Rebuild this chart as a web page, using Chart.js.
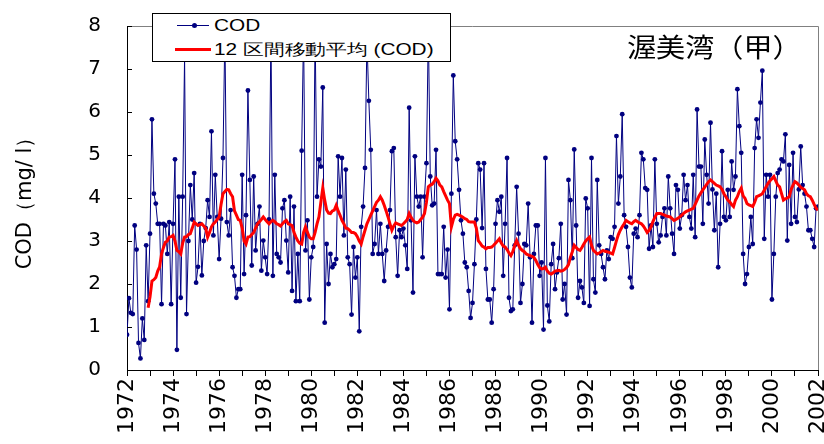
<!DOCTYPE html>
<html>
<head>
<meta charset="utf-8">
<script src="https://cdn.jsdelivr.net/npm/chart.js@4.4.1/dist/chart.umd.min.js"></script>
<style>
  body { margin: 0; background: #fff; }
  #wrap { position: relative; width: 824px; height: 444px; overflow: hidden; }
  #legend { position: absolute; left: 152px; top: 13px; width: 299px; height: 49px; box-sizing: border-box;
            border: 1px solid #000; background: #fff; }
  .lg-text { position: absolute; left: 61px; font-family: "Liberation Sans", Arial, sans-serif; font-size: 16px;
             color: #000; white-space: nowrap; transform: scaleX(1.3); transform-origin: left center; line-height: 18px; }
  .lg-line { position: absolute; }
  #title { position: absolute; left: 627px; top: 30px; font-family: "Noto Sans CJK JP", sans-serif; font-size: 26px;
           color: #000; white-space: nowrap; transform: scaleX(1.12); transform-origin: left center; line-height: 32px; }
</style>
</head>
<body>
<div id="wrap">
  <canvas id="chart" width="824" height="444"></canvas>
  <div id="legend">
    <div class="lg-line" style="left:24px;top:11px;width:32px;height:1px;background:#000080"></div>
    <div class="lg-line" style="left:39px;top:9px;width:5px;height:5px;border-radius:50%;background:#000080"></div>
    <div class="lg-text" style="top:3px">COD</div>
    <div class="lg-line" style="left:22px;top:34px;width:36px;height:3px;background:#ff0000"></div>
    <div class="lg-text" style="top:27px">12 区間移動平均 (COD)</div>
  </div>
  <div id="title">渥美湾（甲）</div>
</div>
<script>
(function () {
    "use strict";

    // monthly COD, Jan 1972 ...
    const startYear = 1972;
    const endYear = 2002;
    const codValues = [
        0.82, 1.67, 1.33, 1.3, 3.36, 2.8, 0.63, 0.27, 1.2, 0.7, 2.9, 1.6,
        3.17, 5.83, 4.1, 3.87, 3.4, 3.4, 1.53, 3.4, 3.36, 2.7, 3.44, 1.53,
        3.4, 4.9, 0.47, 4.03, 1.68, 4.03, 7.3, 1.3, 3.0, 4.3, 3.5, 4.58,
        2.03, 2.4, 3.4, 2.2, 3.0, 3.3, 3.95, 3.56, 5.55, 3.13, 4.54, 3.56,
        2.58, 3.52, 4.93, 7.9, 3.44, 3.13, 3.72, 2.39, 2.19, 1.68, 1.88, 1.88,
        4.54, 2.23, 3.6, 6.5, 4.42, 2.43, 4.5, 2.78, 3.4, 3.8, 2.31, 3.01,
        2.62, 2.23, 3.5, 7.9, 2.19, 4.54, 2.7, 2.62, 2.5, 3.76, 3.95, 3.01,
        2.27, 4.03, 1.84, 3.8, 1.6, 2.7, 1.6, 5.1, 7.9, 2.78, 3.48, 1.64,
        2.62, 2.86, 7.95, 4.03, 4.9, 4.73, 6.57, 1.1, 2.93, 2.0, 2.7, 2.39,
        2.46, 2.58, 4.97, 4.03, 4.93, 3.13, 4.66, 2.62, 2.46, 1.29, 2.86, 2.15,
        2.62, 0.9, 3.33, 3.8, 4.7, 7.7, 6.26, 5.12, 2.7, 2.93, 3.72, 2.7,
        3.4, 2.7, 2.07, 2.78, 3.33, 3.72, 5.09, 5.16, 3.09, 2.19, 3.25, 3.09,
        3.29, 2.9, 2.35, 6.1, 3.48, 1.8, 4.97, 4.03, 3.8, 4.03, 2.62, 4.03,
        4.81, 7.95, 4.5, 3.83, 3.87, 5.12, 2.23, 2.23, 2.23, 3.33, 2.15, 2.8,
        1.41, 4.1, 6.85, 5.32, 4.9, 4.19, 3.48, 3.17, 2.5, 2.39, 1.84, 1.21,
        1.56, 2.46, 3.5, 4.81, 4.66, 3.3, 4.81, 2.35, 1.64, 1.64, 1.1, 1.88,
        3.4, 3.95, 3.68, 4.03, 2.19, 3.4, 4.93, 1.68, 1.37, 1.41, 2.9, 4.26,
        3.17, 1.56, 2.0, 2.93, 2.9, 3.87, 2.62, 1.1, 2.7, 3.36, 3.36, 2.19,
        2.5, 0.94, 4.93, 1.5, 1.13, 2.46, 2.93, 1.88, 2.27, 2.6, 3.4, 1.64,
        2.0, 1.29, 4.42, 3.95, 2.6, 5.13, 3.36, 1.68, 2.07, 1.92, 1.56, 3.99,
        3.76, 1.49, 4.93, 2.11, 1.8, 4.42, 2.9, 2.7, 2.39, 2.11, 2.78, 2.58,
        3.09, 3.05, 3.33, 5.44, 3.87, 4.5, 5.95, 3.6, 3.33, 2.86, 2.15, 1.92,
        3.17, 3.29, 3.09, 3.6, 5.05, 4.9, 4.23, 4.19, 2.82, 3.36, 2.86, 4.9,
        3.4, 2.97, 3.13, 3.56, 3.76, 3.13, 4.5, 3.76, 3.17, 2.7, 4.3, 4.19,
        3.29, 3.6, 4.54, 3.95, 4.3, 3.56, 3.29, 4.54, 3.09, 6.06, 4.73, 4.73,
        3.4, 5.36, 4.54, 3.87, 5.75, 4.2, 3.25, 4.1, 2.39, 3.4, 5.09, 3.56,
        3.48, 4.19, 3.56, 4.85, 4.19, 4.5, 6.53, 5.67, 5.05, 2.7, 2.0, 2.23,
        2.86, 3.56, 2.93, 5.16, 5.83, 5.4, 6.22, 6.96, 3.05, 4.54, 4.03, 4.54,
        1.64, 2.7, 4.03, 4.58, 4.66, 4.9, 4.85, 5.48, 3.01, 4.77, 3.4, 5.05,
        3.56, 3.44, 4.2, 5.2, 4.3, 4.1, 3.8, 3.25, 3.25, 3.05, 2.86, 3.76,
        3.8
    ];

    // 12-month moving average, starts at month 11
    const maStartMonth = 11;
    const maValues = [
        1.45,
        1.7, 2.07, 2.1, 2.15, 2.3, 2.4, 2.7, 2.85, 2.97, 3.0, 3.09, 3.1,
        3.13, 3.0, 2.78, 2.75, 2.7, 2.95, 3.09, 3.1, 3.15, 3.17, 3.3, 3.44,
        3.4, 3.36, 3.38, 3.4, 3.35, 3.3, 3.09, 3.2, 3.33, 3.4, 3.44, 3.5,
        3.56, 3.85, 4.1, 4.15, 4.2, 4.19, 4.1, 4.03, 3.7, 3.6, 3.5, 3.48,
        3.3, 3.0, 2.93, 3.09, 3.1, 3.15, 3.2, 3.3, 3.4, 3.45, 3.5, 3.56,
        3.5, 3.45, 3.4, 3.45, 3.48, 3.45, 3.4, 3.38, 3.35, 3.4, 3.45, 3.48,
        3.4, 3.38, 3.36, 3.2, 3.09, 3.0, 2.95, 2.93, 3.2, 3.33, 3.2, 3.09,
        3.05, 3.05, 3.2, 3.4, 3.56, 3.9, 4.23, 3.95, 3.72, 3.65, 3.64, 3.7,
        3.72, 3.83, 3.7, 3.6, 3.48, 3.4, 3.3, 3.29, 3.25, 3.2, 3.2, 3.17,
        3.1, 3.0, 2.93, 3.1, 3.25, 3.4, 3.5, 3.6, 3.7, 3.8, 3.9, 3.95,
        4.03, 3.95, 3.83, 3.7, 3.56, 3.4, 3.25, 3.35, 3.42, 3.4, 3.38, 3.36,
        3.4, 3.45, 3.5, 3.64, 3.55, 3.48, 3.44, 3.42, 3.44, 3.5, 3.55, 3.64,
        3.9, 4.26, 4.3, 4.32, 4.38, 4.46, 4.4, 4.3, 4.26, 4.15, 4.05, 3.95,
        3.87, 3.33, 3.5, 3.6, 3.62, 3.6, 3.58, 3.55, 3.52, 3.5, 3.45, 3.44,
        3.44, 3.44, 3.3, 3.01, 2.95, 2.88, 2.86, 2.82, 2.85, 2.85, 2.86, 2.9,
        2.95, 3.0, 3.05, 2.95, 2.88, 2.86, 2.8, 2.72, 2.66, 2.75, 2.9, 3.01,
        2.9, 2.82, 2.78, 2.75, 2.7, 2.68, 2.66, 2.64, 2.62, 2.55, 2.45, 2.38,
        2.35, 2.36, 2.39, 2.3, 2.25, 2.23, 2.26, 2.3, 2.31, 2.32, 2.3, 2.31,
        2.34, 2.38, 2.45, 2.62, 2.75, 2.9, 2.85, 2.8, 2.78, 2.85, 2.93, 3.0,
        3.05, 3.09, 2.9, 2.78, 2.74, 2.7, 2.72, 2.75, 2.78, 2.76, 2.75, 2.74,
        2.72, 2.7, 2.85, 3.01, 3.15, 3.25, 3.33, 3.4, 3.48, 3.45, 3.42, 3.4,
        3.45, 3.48, 3.45, 3.42, 3.4, 3.35, 3.28, 3.2, 3.25, 3.33, 3.45, 3.55,
        3.64, 3.64, 3.64, 3.62, 3.6, 3.58, 3.57, 3.56, 3.52, 3.48, 3.5, 3.53,
        3.56, 3.6, 3.64, 3.68, 3.7, 3.72, 3.74, 3.76, 3.85, 3.95, 4.05, 4.12,
        4.19, 4.25, 4.32, 4.38, 4.42, 4.38, 4.34, 4.3, 4.28, 4.26, 4.2, 4.1,
        4.03, 3.95, 3.91, 3.85, 3.8, 3.95, 4.03, 4.15, 4.23, 4.05, 3.99, 3.87,
        3.84, 3.82, 3.8, 3.9, 4.03, 4.05, 4.07, 4.1, 4.18, 4.26, 4.34, 4.4,
        4.45, 4.5, 4.4, 4.3, 4.26, 4.1, 3.95, 3.98, 4.0, 4.03, 4.2, 4.3,
        4.38, 4.35, 4.3, 4.25, 4.22, 4.19, 4.1, 4.05, 4.03, 3.95, 3.85, 3.76,
        3.72
    ];

    const yTicks = [0, 1, 2, 3, 4, 5, 6, 7, 8];

    let codData = codValues.map(function (v, i) { return { x: startYear + i / 12, y: v }; });
    let maData = maValues.map(function (v, i) { return { x: startYear + (maStartMonth + i) / 12, y: v }; });

    // gray frame on top/right + small inward ticks on the y axis
    const framePlugin = {
        id: "frame",
        afterDraw: function (chart) {
            let ctx = chart.ctx;
            let a = chart.chartArea;
            ctx.save();
            ctx.strokeStyle = "#808080";
            ctx.lineWidth = 1;
            ctx.beginPath();
            ctx.moveTo(a.left, a.top + 0.5);
            ctx.lineTo(a.right + 0.5, a.top + 0.5);
            ctx.lineTo(a.right + 0.5, a.bottom);
            ctx.stroke();
            ctx.strokeStyle = "#000";
            ctx.beginPath();
            yTicks.forEach(function (t) {
                let y = Math.round(chart.scales.y.getPixelForValue(t)) + 0.5;
                ctx.moveTo(a.left, y);
                ctx.lineTo(a.left + 5, y);
            });
            ctx.stroke();
            ctx.restore();
        }
    };

    let ctx = document.getElementById("chart").getContext("2d");
    new Chart(ctx, {
        type: "line",
        data: {
            datasets: [
                {
                    label: "12 区間移動平均 (COD)",
                    data: maData,
                    borderColor: "#ff0000",
                    borderWidth: 3,
                    pointRadius: 0,
                    order: 0,
                },
                {
                    label: "COD",
                    data: codData,
                    borderColor: "#000080",
                    borderWidth: 1,
                    pointRadius: 2.4,
                    pointBorderWidth: 0,
                    pointBackgroundColor: "#000080",
                    order: 1,
                },
            ],
        },
        options: {
            responsive: false,
            animation: false,
            devicePixelRatio: 1,
            layout: { padding: { top: 26, right: 6, left: 0, bottom: 0 } },
            plugins: {
                legend: { display: false },
                tooltip: { enabled: false },
            },
            scales: {
                x: {
                    type: "linear",
                    min: startYear,
                    max: endYear,
                    afterFit: function (s) { s.height = 74; s.paddingLeft = 0; s.paddingRight = 0; },
                    ticks: {
                        stepSize: 1,
                        autoSkip: false,
                        maxRotation: 90,
                        minRotation: 90,
                        padding: 2,
                        color: "#000",
                        font: { family: "DejaVu Sans", size: 22 },
                        callback: function (v) { return v % 2 === 0 ? String(v) : ""; },
                    },
                    grid: { drawOnChartArea: false, drawTicks: true, tickLength: 6, color: "#000" },
                    border: { color: "#000", width: 1 },
                },
                y: {
                    min: 0,
                    max: 8,
                    afterFit: function (s) { s.width = 127; s.paddingTop = 0; s.paddingBottom = 0; },
                    ticks: {
                        stepSize: 1,
                        padding: 26,
                        color: "#000",
                        font: { family: "DejaVu Sans", size: 20 },
                    },
                    grid: { drawOnChartArea: false, drawTicks: false },
                    border: { color: "#000", width: 1 },
                    title: {
                        display: true,
                        text: "COD（mg/ l）",
                        color: "#000",
                        font: { family: "DejaVu Sans", size: 21 },
                        padding: { top: 13, bottom: 0 },
                    },
                },
            },
        },
        plugins: [framePlugin],
    });
})();
</script>
</body>
</html>
